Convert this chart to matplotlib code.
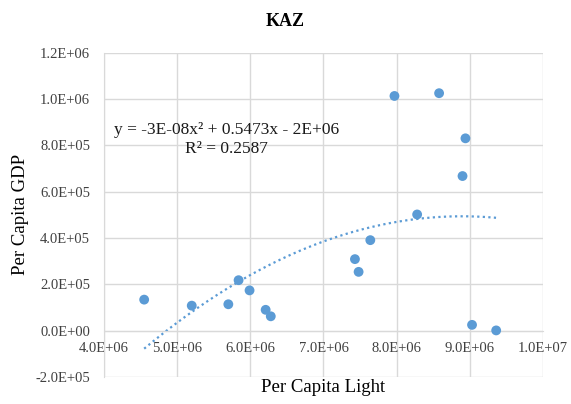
import matplotlib.pyplot as plt
import numpy as np
from matplotlib.ticker import FuncFormatter

plt.rcParams['font.family'] = ['Liberation Serif', 'DejaVu Serif']

# Per capita light vs per capita GDP
light = [4.55e6, 5.20e6, 5.70e6, 5.84e6, 5.99e6, 6.21e6, 6.28e6,
         7.43e6, 7.48e6, 7.64e6, 7.97e6, 8.28e6, 8.58e6, 8.90e6,
         8.94e6, 9.03e6, 9.36e6]
gdp = [1.34e5, 1.08e5, 1.14e5, 2.18e5, 1.74e5, 0.90e5, 0.62e5,
       3.09e5, 2.54e5, 3.91e5, 1.014e6, 5.02e5, 1.026e6, 6.68e5,
       8.31e5, 0.25e5, 0.01e5]
x_ticks = [4e6, 5e6, 6e6, 7e6, 8e6, 9e6, 1e7]
y_ticks = [-2e5, 0, 2e5, 4e5, 6e5, 8e5, 1e6, 1.2e6]

blue = '#5B9BD5'
grid = '#D9D9D9'

fig = plt.figure(figsize=(5.71, 4.04), dpi=100)
ax = fig.add_axes([0.182, 0.067, 0.769, 0.802])

# quadratic trendline
coef = np.polyfit(light, gdp, 2)
xs = np.linspace(min(light), max(light), 200)
ax.plot(xs, np.polyval(coef, xs), ls=(0, (1, 1.5)), c=blue, lw=1.6, zorder=2)
ax.scatter(light, gdp, s=50, c=blue, edgecolors='none', zorder=3)

ax.set_xlim(4e6, 1e7)
ax.set_ylim(-2e5, 1.2e6)
ax.set_xticks(x_ticks)
ax.set_yticks(y_ticks)
fmt = FuncFormatter(lambda v, p: '{:.1E}'.format(v))
ax.xaxis.set_major_formatter(fmt)
ax.yaxis.set_major_formatter(fmt)
ax.tick_params(length=0, labelsize=10.5, colors='#404040', pad=8)
ax.tick_params(axis='y', pad=10)
ax.grid(True, color=grid, lw=1)
ax.set_axisbelow(True)

for s in ['top', 'right']:
    ax.spines[s].set_visible(False)
ax.spines['bottom'].set_position(('data', 0))
ax.spines['bottom'].set_color(grid)
ax.spines['left'].set_color(grid)

ax.set_xlabel('Per Capita Light', fontsize=13.5)
ax.xaxis.set_label_coords(0.5, -0.005)
ax.xaxis.label.set_va('top')
ax.set_ylabel('Per Capita GDP', fontsize=13.5)
ax.yaxis.set_label_coords(-0.19, 0.5)
ax.yaxis.label.set_va('center')

ax.text(5.67e6, 8.25e5, 'y = -3E-08x\u00b2 + 0.5473x - 2E+06\nR\u00b2 = 0.2587',
        ha='center', va='center', fontsize=12.5, linespacing=1.25,
        color='#1a1a1a', multialignment='center')

fig.text(0.5, 0.948, 'KAZ', ha='center', va='center', fontsize=13,
         fontweight='bold')

fig.savefig('out.png', dpi=100)
